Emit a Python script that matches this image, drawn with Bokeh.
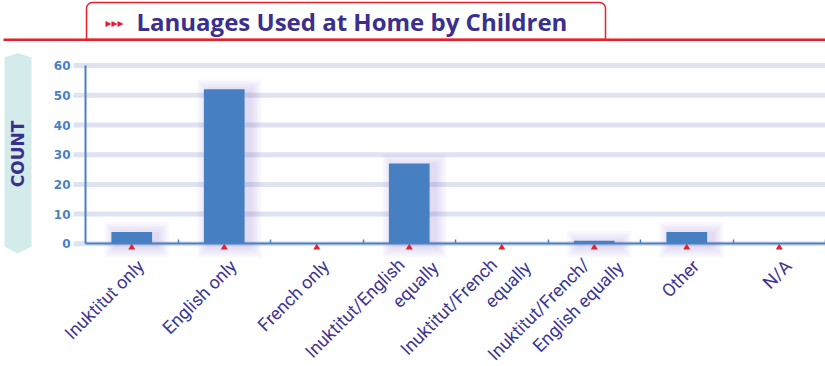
from math import pi
from bokeh.plotting import figure
from bokeh.models import (Range1d, LinearAxis, FixedTicker, ColumnDataSource,
                          LabelSet, Label, BoxAnnotation, PolyAnnotation)
from bokeh.core.properties import value
from bokeh.embed import file_html
from bokeh.resources import INLINE

# ---------------- data ----------------
categories = ["Inuktitut only", "English only", "French only",
              "Inuktitut/English\nequally", "Inuktitut/French\nequally",
              "Inuktitut/French/\nEnglish equally", "Other", "N/A"]
counts = [4, 52, 0, 27, 0, 1, 4, 0]
y_ticks = [0, 10, 20, 30, 40, 50, 60]
title_text = "Lanuages Used at Home by Children"
y_title = "COUNT"

# ---------------- layout / style ----------------
W, H = 825, 366
AX_L = 85               # screen x of the first category boundary
ZERO_Y = 243.3          # screen y (from top) of value 0
PX_Y = 2.97             # px per count unit
n = len(categories)
PX_X = (W - AX_L) / n
BAR_W = 0.44

BLUE = "#4680c3"
AXIS_BLUE = "#4a80c4"
BAND = "#dfe3f1"
INDIGO = "#3b2f8e"
LABEL_INDIGO = "#3d3592"
RED = "#e8202a"
TEAL = "#d4ebeb"


def sy(y_top):
    """screen y measured from the top -> Bokeh screen units (from bottom)"""
    return H - y_top


p = figure(width=W, height=H,
           x_range=Range1d(-AX_L / PX_X, n),
           y_range=Range1d(-(H - ZERO_Y) / PX_Y, ZERO_Y / PX_Y),
           output_backend="svg", toolbar_location=None,
           x_axis_type=None, y_axis_type=None,
           min_border=0, min_border_left=0, min_border_right=0,
           min_border_top=0, min_border_bottom=0)
p.outline_line_color = None
p.background_fill_color = "white"
p.border_fill_color = "white"

# horizontal bands (grid) from the tick values
band_x0 = -12 / PX_X
p.segment(x0=[band_x0] * len(y_ticks), x1=[n] * len(y_ticks), y0=y_ticks, y1=y_ticks,
          line_color=BAND, line_width=5, level="underlay")

# y axis at the category origin
yaxis = LinearAxis(ticker=FixedTicker(ticks=y_ticks), bounds=(0, y_ticks[-1]),
                   fixed_location=0)
yaxis.axis_line_color = AXIS_BLUE
yaxis.axis_line_width = 2
yaxis.major_tick_line_color = None
yaxis.major_tick_out = 0
yaxis.major_tick_in = 0
yaxis.minor_tick_line_color = None
yaxis.major_label_standoff = 15
yaxis.major_label_text_font = "DejaVu Sans"
yaxis.major_label_text_font_style = "bold"
yaxis.major_label_text_font_size = "12px"
yaxis.major_label_text_color = AXIS_BLUE
p.add_layout(yaxis, "left")

# x axis at value 0 with boundary ticks
boundaries = list(range(1, n + 1))
xaxis = LinearAxis(ticker=FixedTicker(ticks=boundaries), fixed_location=0,
                   bounds=(0, n))
xaxis.axis_line_color = AXIS_BLUE
xaxis.axis_line_width = 2
xaxis.major_tick_line_color = AXIS_BLUE
xaxis.major_tick_line_width = 1.5
xaxis.major_tick_in = 4
xaxis.major_tick_out = 0
xaxis.minor_tick_line_color = None
xaxis.major_label_overrides = {b: "" for b in boundaries}
xaxis.major_label_text_font_size = "0px"
p.add_layout(xaxis, "below")

centers = [i + 0.5 for i in range(n)]

# soft purple shadow behind bars
sl, sr, st, sb = [], [], [], []
for c, v in zip(centers, counts):
    if v <= 0:
        continue
    for e in (2, 4, 6, 8, 10, 12):
        sl.append(c - BAR_W / 2 + (5 - e) / PX_X)
        sr.append(c + BAR_W / 2 + (5 + e) / PX_X)
        st.append(v + (e - 2) / PX_Y)
        sb.append(-(e + 2) / PX_Y)
p.quad(left=sl, right=sr, top=st, bottom=sb, fill_color="#6a58c0",
       fill_alpha=0.035, line_color=None)

src = ColumnDataSource(dict(x=centers, top=counts, cat=categories))
p.vbar(x="x", top="top", bottom=0, width=BAR_W, source=src,
       fill_color=BLUE, line_color=None)

# red markers under each category
p.scatter(x=centers, y=[-3.7 / PX_Y] * n, marker="triangle", size=7,
          fill_color=RED, line_color=None)

# category labels (rotated 45 degrees, anchored at their right end)
lx, ly, lt = [], [], []
for c, cat in zip(centers, categories):
    lines = cat.split("\n")
    nl = len(lines)
    for j, line in enumerate(lines):
        k = j - (nl - 1) / 2
        dx_px = 9 + 34 * k
        dy_px = 19 + 3 * k
        lx.append(c + dx_px / PX_X)
        ly.append(-dy_px / PX_Y)
        lt.append(line)
lsrc = ColumnDataSource(dict(x=lx, y=ly, text=lt))
labels = LabelSet(x="x", y="y", text="text", source=lsrc, angle=pi / 4,
                  text_align="right", text_baseline="middle",
                  text_font=value("Roboto"), text_font_size="18px",
                  text_color=LABEL_INDIGO)
p.add_layout(labels)

# decorations outside the plotting area
p.add_layout(PolyAnnotation(xs=[4, 17, 31, 31, 17, 4],
                            ys=[sy(57), sy(52.5), sy(57), sy(246), sy(253), sy(246)],
                            xs_units="screen", ys_units="screen",
                            fill_color=TEAL, fill_alpha=1, line_color=None,
                            level="underlay"))
p.add_layout(Label(x=17, y=sy(153.5), x_units="screen", y_units="screen", text=y_title,
                   angle=pi / 2, text_align="center", text_baseline="middle",
                   text_font="DejaVu Sans", text_font_style="bold",
                   text_font_size="17px", text_color=INDIGO))
p.add_layout(BoxAnnotation(left=86, right=605, top=sy(2), bottom=sy(39),
                           left_units="screen", right_units="screen",
                           top_units="screen", bottom_units="screen",
                           fill_alpha=0, line_color=RED, line_alpha=1, line_width=1.5,
                           border_radius=(6, 6, 0, 0)))
p.add_layout(BoxAnnotation(left=3, right=W, top=sy(38), bottom=sy(40.5),
                           left_units="screen", right_units="screen",
                           top_units="screen", bottom_units="screen",
                           fill_color=RED, fill_alpha=1, line_color=None))
p.add_layout(Label(x=105, y=sy(22.5), x_units="screen", y_units="screen",
                   text="\u25b8\u25b8\u25b8",
                   text_align="left", text_baseline="middle",
                   text_font="DejaVu Sans", text_font_size="12px", text_color=RED))
p.add_layout(Label(x=136, y=sy(20.5), x_units="screen", y_units="screen", text=title_text,
                   text_align="left", text_baseline="middle",
                   text_font="Open Sans", text_font_style="bold",
                   text_font_size="24px", text_color=INDIGO))

open("out.html", "w").write(file_html(p, INLINE))
